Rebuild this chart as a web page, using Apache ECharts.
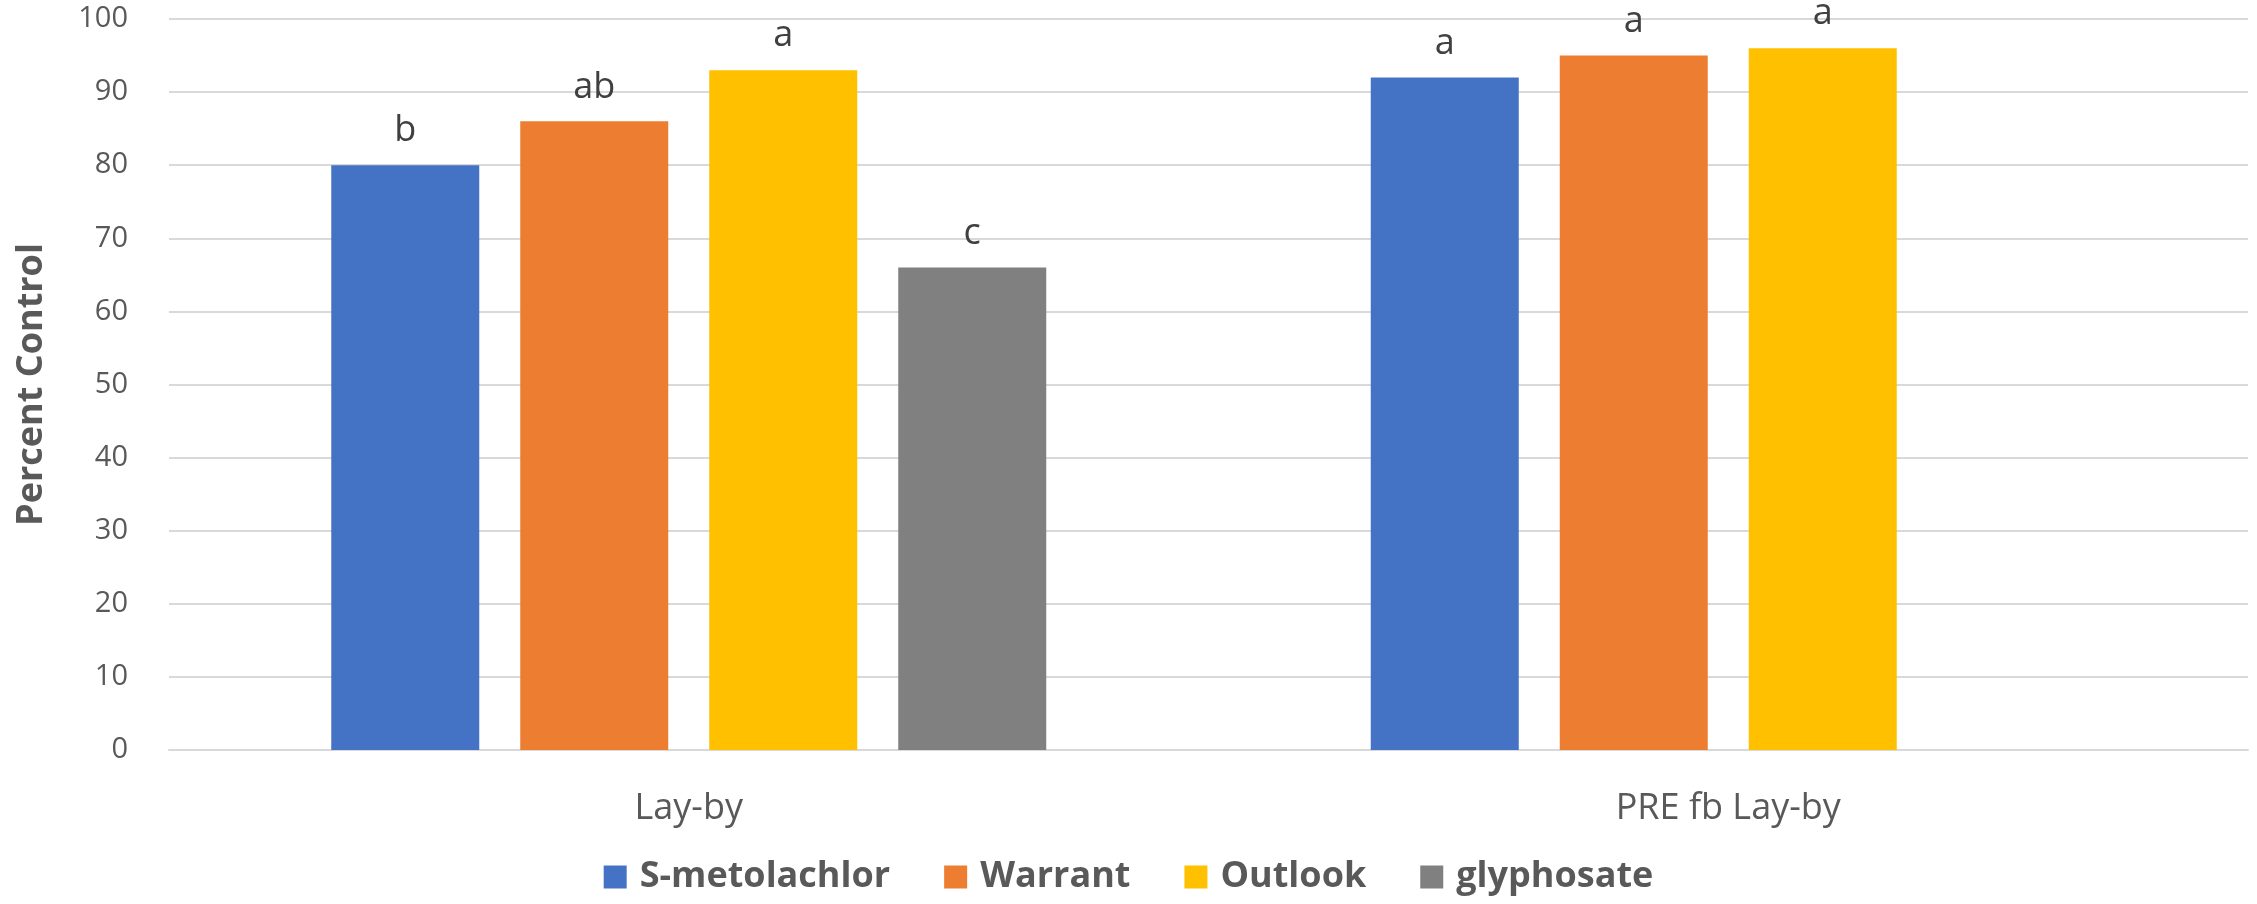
<!DOCTYPE html>
<html>
<head>
<meta charset="utf-8">
<title>Percent Control</title>
<script src="https://cdn.jsdelivr.net/npm/echarts@6/dist/echarts.min.js"></script>
<style>
  html, body { margin: 0; padding: 0; background: #ffffff; }
  #chart { width: 2257px; height: 904px; }
</style>
</head>
<body>
<div id="chart"></div>
<script>
// Timing groups on the x axis
const categories = ['Lay-by', 'PRE fb Lay-by'];

// Herbicide treatments (one bar series each)
const seriesNames = ['S-metolachlor', 'Warrant', 'Outlook', 'glyphosate'];
const seriesColors = ['#4472C4', '#ED7D31', '#FFC000', '#808080'];

// Percent control per treatment, one value per timing group
const sMetolachlor = [80, 92];
const warrant = [86, 95];
const outlook = [93, 96];
const glyphosate = [66, null];

// Mean separation letters shown above each bar
const sMetolachlorLetters = ['b', 'a'];
const warrantLetters = ['ab', 'a'];
const outlookLetters = ['a', 'a'];
const glyphosateLetters = ['c', ''];

const seriesValues = [sMetolachlor, warrant, outlook, glyphosate];
const seriesLetters = [sMetolachlorLetters, warrantLetters, outlookLetters, glyphosateLetters];

const textColor = '#595959';
const gridColor = '#D9D9D9';

const chart = echarts.init(document.getElementById('chart'), null, { renderer: 'canvas' });

const series = seriesNames.map((name, i) => ({
  name: name,
  type: 'bar',
  barWidth: 148,
  barGap: '27.7%',
  itemStyle: { color: seriesColors[i] },
  data: seriesValues[i].map(v => v),
  label: {
    show: true,
    position: 'top',
    distance: 16,
    color: '#404040',
    fontFamily: 'Open Sans',
    fontSize: 36,
    formatter: p => seriesLetters[i][p.dataIndex]
  },
  emphasis: { disabled: true }
}));

chart.setOption({
  animation: false,
  backgroundColor: '#ffffff',
  grid: { left: 169, right: 9, top: 19, bottom: 154, containLabel: false },
  legend: {
    bottom: 4,
    left: 'center',
    itemWidth: 23,
    itemHeight: 23,
    itemGap: 54,
    icon: 'rect',
    data: seriesNames,
    textStyle: {
      color: textColor,
      fontFamily: 'Open Sans',
      fontWeight: 'bold',
      fontSize: 36,
      padding: [0, 0, 0, 8]
    }
  },
  xAxis: {
    type: 'category',
    data: categories,
    axisLine: { show: true, lineStyle: { color: gridColor, width: 2 } },
    axisTick: { show: false },
    axisLabel: {
      color: textColor,
      fontFamily: 'Open Sans',
      fontSize: 36,
      margin: 41
    }
  },
  yAxis: {
    type: 'value',
    min: 0,
    max: 100,
    interval: 10,
    name: 'Percent Control',
    nameLocation: 'middle',
    nameGap: 119,
    nameTextStyle: {
      color: textColor,
      fontFamily: 'Open Sans',
      fontWeight: 'bold',
      fontSize: 36
    },
    axisLine: { show: false },
    axisTick: { show: false },
    axisLabel: {
      color: textColor,
      fontFamily: 'Open Sans',
      fontSize: 29,
      margin: 41
    },
    splitLine: { show: true, lineStyle: { color: gridColor, width: 2 } }
  },
  series: series
});
</script>
</body>
</html>
